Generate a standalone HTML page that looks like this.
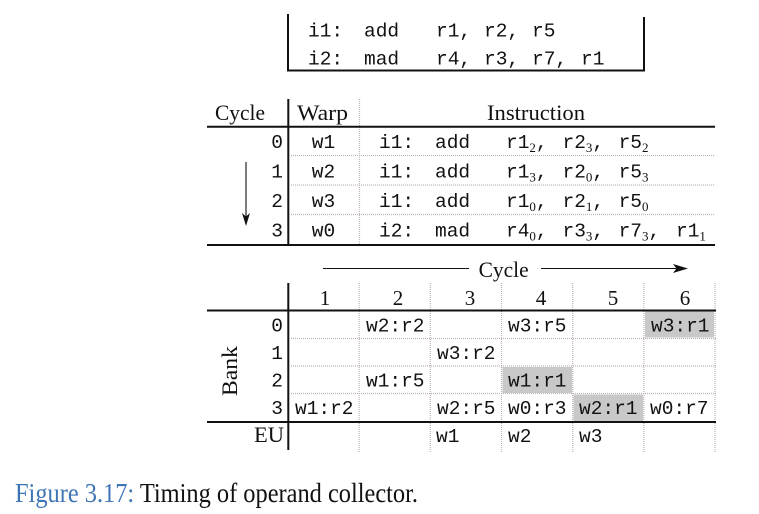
<!DOCTYPE html>
<html>
<head>
<meta charset="utf-8">
<style>
  html,body{margin:0;padding:0;background:#fff;}
  svg{display:block;}
  .m{font-family:"Liberation Mono",monospace;font-size:19.5px;fill:#111;}
  .s{font-family:"Liberation Serif",serif;font-size:22.5px;fill:#111;}
  .sub{font-family:"Liberation Serif",serif;font-size:13px;}
  .dot{stroke:#bfb3b3;stroke-width:1.2;stroke-dasharray:1 1;fill:none;}
  .rule{stroke:#111;stroke-width:2;}
</style>
</head>
<body>
<svg width="759" height="514" viewBox="0 0 759 514" xmlns="http://www.w3.org/2000/svg">
  <!-- Top code box -->
  <line class="rule" x1="288" y1="14" x2="288" y2="71.5"/>
  <line class="rule" x1="287" y1="70.5" x2="645" y2="70.5"/>
  <line class="rule" x1="644" y1="17" x2="644" y2="71.5"/>
  <text class="m" x="308" y="36.7">i1:</text>
  <text class="m" x="364" y="36.7">add</text>
  <text class="m" x="436" y="36.7">r1,</text>
  <text class="m" x="484" y="36.7">r2,</text>
  <text class="m" x="532" y="36.7">r5</text>
  <text class="m" x="308" y="64.3">i2:</text>
  <text class="m" x="364" y="64.3">mad</text>
  <text class="m" x="436" y="64.3">r4,</text>
  <text class="m" x="484" y="64.3">r3,</text>
  <text class="m" x="532" y="64.3">r7,</text>
  <text class="m" x="581" y="64.3">r1</text>

  <!-- Table 2 -->
  <text class="s" x="215" y="120" textLength="50" lengthAdjust="spacingAndGlyphs">Cycle</text>
  <text class="s" x="297" y="120" textLength="51" lengthAdjust="spacingAndGlyphs">Warp</text>
  <text class="s" x="487" y="120" textLength="98" lengthAdjust="spacingAndGlyphs">Instruction</text>
  <line class="rule" x1="288.3" y1="99" x2="288.3" y2="245"/>
  <line class="dot" x1="359.5" y1="99" x2="359.5" y2="245"/>
  <line class="rule" x1="207" y1="126.7" x2="715" y2="126.7"/>
  <line class="dot" x1="289" y1="155.5" x2="715" y2="155.5"/>
  <line class="dot" x1="289" y1="185" x2="715" y2="185"/>
  <line class="dot" x1="289" y1="214.5" x2="715" y2="214.5"/>
  <line class="rule" x1="207" y1="245" x2="715" y2="245"/>
  <!-- down arrow -->
  <line x1="246" y1="162" x2="246" y2="218" stroke="#111" stroke-width="1.1"/>
  <polygon points="246,226 242,213 246,216.5 250,213" fill="#111"/>

  <!-- rows -->
  <text class="m" x="283" y="148" text-anchor="end">0</text>
  <text class="m" x="323.5" y="148" text-anchor="middle">w1</text>
  <text class="m" x="379" y="148">i1:</text>
  <text class="m" x="435" y="148">add</text>
  <text class="m" x="506" y="148">r1<tspan class="sub" dy="4">2</tspan><tspan dy="-4">,</tspan></text>
  <text class="m" x="562.5" y="148">r2<tspan class="sub" dy="4">3</tspan><tspan dy="-4">,</tspan></text>
  <text class="m" x="618.6" y="148">r5<tspan class="sub" dy="4">2</tspan></text>

  <text class="m" x="283" y="177.5" text-anchor="end">1</text>
  <text class="m" x="323.5" y="177.5" text-anchor="middle">w2</text>
  <text class="m" x="379" y="177.5">i1:</text>
  <text class="m" x="435" y="177.5">add</text>
  <text class="m" x="506" y="177.5">r1<tspan class="sub" dy="4">3</tspan><tspan dy="-4">,</tspan></text>
  <text class="m" x="562.5" y="177.5">r2<tspan class="sub" dy="4">0</tspan><tspan dy="-4">,</tspan></text>
  <text class="m" x="618.6" y="177.5">r5<tspan class="sub" dy="4">3</tspan></text>

  <text class="m" x="283" y="207" text-anchor="end">2</text>
  <text class="m" x="323.5" y="207" text-anchor="middle">w3</text>
  <text class="m" x="379" y="207">i1:</text>
  <text class="m" x="435" y="207">add</text>
  <text class="m" x="506" y="207">r1<tspan class="sub" dy="4">0</tspan><tspan dy="-4">,</tspan></text>
  <text class="m" x="562.5" y="207">r2<tspan class="sub" dy="4">1</tspan><tspan dy="-4">,</tspan></text>
  <text class="m" x="618.6" y="207">r5<tspan class="sub" dy="4">0</tspan></text>

  <text class="m" x="283" y="236.5" text-anchor="end">3</text>
  <text class="m" x="323.5" y="236.5" text-anchor="middle">w0</text>
  <text class="m" x="379" y="236.5">i2:</text>
  <text class="m" x="435" y="236.5">mad</text>
  <text class="m" x="506" y="236.5">r4<tspan class="sub" dy="4">0</tspan><tspan dy="-4">,</tspan></text>
  <text class="m" x="562.5" y="236.5">r3<tspan class="sub" dy="4">3</tspan><tspan dy="-4">,</tspan></text>
  <text class="m" x="618.6" y="236.5">r7<tspan class="sub" dy="4">3</tspan><tspan dy="-4">,</tspan></text>
  <text class="m" x="676" y="236.5">r1<tspan class="sub" dy="4">1</tspan></text>

  <!-- Table 3 -->
  <!-- cycle arrow -->
  <line x1="323" y1="268.5" x2="469" y2="268.5" stroke="#111" stroke-width="1.1"/>
  <line x1="541" y1="268.5" x2="679" y2="268.5" stroke="#111" stroke-width="1.1"/>
  <polygon points="688,268.5 673,264 676.5,268.5 673,273" fill="#111"/>
  <text class="s" x="478.6" y="277" textLength="50" lengthAdjust="spacingAndGlyphs">Cycle</text>

  <!-- gray cells -->
  <rect x="645" y="311.5" width="69" height="26" fill="#c8c8c8"/>
  <rect x="502.5" y="367" width="69.5" height="26" fill="#c8c8c8"/>
  <rect x="573.5" y="394.5" width="69.5" height="26.5" fill="#c8c8c8"/>

  <!-- grid -->
  <line class="rule" x1="288.3" y1="283" x2="288.3" y2="450"/>
  <line class="dot" x1="359.2" y1="283" x2="359.2" y2="452"/>
  <line class="dot" x1="430.3" y1="283" x2="430.3" y2="452"/>
  <line class="dot" x1="501.5" y1="283" x2="501.5" y2="452"/>
  <line class="dot" x1="572.7" y1="283" x2="572.7" y2="452"/>
  <line class="dot" x1="643.8" y1="283" x2="643.8" y2="452"/>
  <line class="dot" x1="715" y1="283" x2="715" y2="452"/>
  <line class="rule" x1="207" y1="310.5" x2="716" y2="310.5"/>
  <line class="dot" x1="289" y1="338.5" x2="716" y2="338.5"/>
  <line class="dot" x1="289" y1="366" x2="716" y2="366"/>
  <line class="dot" x1="289" y1="393.5" x2="716" y2="393.5"/>
  <line class="rule" x1="207" y1="422" x2="716" y2="422"/>

  <!-- headers -->
  <text class="s" x="325" y="305" text-anchor="middle" style="font-size:21px">1</text>
  <text class="s" x="398" y="305" text-anchor="middle" style="font-size:21px">2</text>
  <text class="s" x="470" y="305" text-anchor="middle" style="font-size:21px">3</text>
  <text class="s" x="541" y="305" text-anchor="middle" style="font-size:21px">4</text>
  <text class="s" x="613" y="305" text-anchor="middle" style="font-size:21px">5</text>
  <text class="s" x="685" y="305" text-anchor="middle" style="font-size:21px">6</text>

  <!-- bank label -->
  <text class="s" transform="translate(237,371) rotate(-90)" text-anchor="middle" textLength="50" lengthAdjust="spacingAndGlyphs">Bank</text>

  <!-- bank numbers -->
  <text class="m" x="283" y="331.7" text-anchor="end">0</text>
  <text class="m" x="283" y="359.2" text-anchor="end">1</text>
  <text class="m" x="283" y="386.7" text-anchor="end">2</text>
  <text class="m" x="283" y="414.2" text-anchor="end">3</text>
  <text class="s" x="284" y="442" text-anchor="end">EU</text>

  <!-- cells -->
  <text class="m" x="366" y="331.7">w2:r2</text>
  <text class="m" x="508" y="331.7">w3:r5</text>
  <text class="m" x="651" y="331.7">w3:r1</text>

  <text class="m" x="437" y="359.2">w3:r2</text>

  <text class="m" x="366" y="386.7">w1:r5</text>
  <text class="m" x="508" y="386.7">w1:r1</text>

  <text class="m" x="295" y="414.2">w1:r2</text>
  <text class="m" x="437" y="414.2">w2:r5</text>
  <text class="m" x="508" y="414.2">w0:r3</text>
  <text class="m" x="579" y="414.2">w2:r1</text>
  <text class="m" x="650" y="414.2">w0:r7</text>

  <text class="m" x="436" y="442">w1</text>
  <text class="m" x="508" y="442">w2</text>
  <text class="m" x="579" y="442">w3</text>

  <!-- caption -->
  <text x="15" y="502" style="font-family:'Liberation Serif',serif;font-size:27px;fill:#111;" textLength="403" lengthAdjust="spacingAndGlyphs"><tspan fill="#3f74b5">Figure 3.17:</tspan> Timing of operand collector.</text>
</svg>
</body>
</html>
